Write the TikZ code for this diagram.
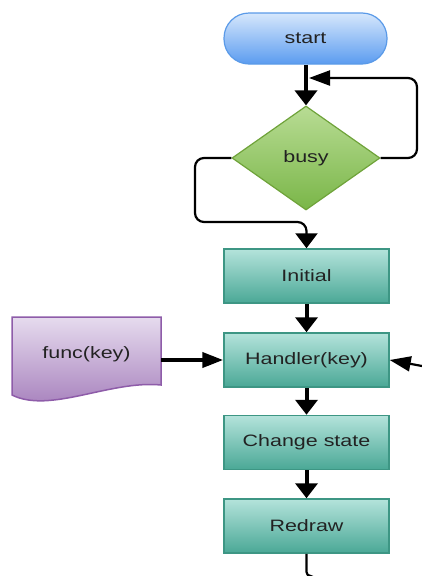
\documentclass[tikz,border=0pt]{standalone}
\usepackage{fontspec}
\setmainfont[FakeStretch=1.3]{Liberation Sans}
\usetikzlibrary{arrows.meta,shapes.geometric,calc}
\definecolor{stTop}{HTML}{D6E7FC}
\definecolor{stBot}{HTML}{5B9CF0}
\definecolor{stBrd}{HTML}{5A9AE8}
\definecolor{dmTop}{HTML}{B8DC94}
\definecolor{dmBot}{HTML}{7AB648}
\definecolor{dmBrd}{HTML}{6FA33A}
\definecolor{prTop}{HTML}{B4E3DB}
\definecolor{prBot}{HTML}{4AA896}
\definecolor{prBrd}{HTML}{3D9684}
\definecolor{dcTop}{HTML}{E6DBEE}
\definecolor{dcBot}{HTML}{A27AB9}
\definecolor{dcBrd}{HTML}{8E5CA9}
\definecolor{txt}{HTML}{222222}
\tikzset{
  x=1pt, y=1pt,
  lbl/.style={font=\fontsize{16.5}{18}\selectfont, text=txt},
  startbox/.style={lbl, rectangle, rounded corners=25pt, draw=stBrd, line width=1.2pt,
    top color=stTop, bottom color=stBot, minimum width=163pt, minimum height=51pt, inner sep=0pt},
  busybox/.style={lbl, diamond, draw=dmBrd, line width=1.2pt, top color=dmTop, bottom color=dmBot,
    minimum width=148pt, minimum height=104pt, inner sep=0pt},
  procbox/.style={lbl, rectangle, draw=prBrd, line width=1.5pt, top color=prTop, bottom color=prBot,
    minimum width=165pt, minimum height=54pt, inner sep=0pt},
  docshape/.style={draw=dcBrd, line width=1.5pt, top color=dcTop, bottom color=dcBot},
  vflow/.style={line width=4pt, -{Triangle[width=22pt,length=15pt]}},
  hflow/.style={line width=4pt, -{Triangle[width=15pt,length=21pt]}},
  loopv/.style={line width=2.2pt, rounded corners=9pt, -{Triangle[width=22pt,length=15pt]}},
  looph/.style={line width=2.2pt, rounded corners=9pt, -{Triangle[width=15pt,length=21pt]}},
  plainline/.style={line width=2.2pt, rounded corners=4pt},
}
\begin{document}
\begin{tikzpicture}
\useasboundingbox (0,0) rectangle (422,-576);
% document shape
\path[docshape] (12,-317) -- (161,-317) -- (161,-385)
  .. controls (110,-380) and (50,-414) .. (12,-395) -- cycle;
\node[lbl, minimum width=149pt, minimum height=78pt, inner sep=0pt] (func) at (86.5,-354) {func(key)};
% nodes
\node[startbox] (start) at (305.5,-38.5) {start};
\node[busybox] (busy) at (306,-158) {busy};
\node[procbox] (init) at (306.5,-276) {Initial};
\node[procbox] (hand) at (306.5,-360) {Handler(key)};
\node[procbox] (chg) at (306.5,-442.5) {Change state};
\node[procbox] (redraw) at (306.5,-526) {Redraw};
\coordinate (rtop) at (417,-78);
\coordinate (lbot) at (195,-222);
\coordinate (rin) at (422,-366);
\coordinate (bend) at (310,-576);
% connectors
\draw[vflow] (start.south -| busy.north) -- (busy.north);
\draw[looph, shorten >=3pt] (busy.east) -| (rtop) -- (busy.north |- rtop);
\draw[loopv] (busy.west) -| (lbot) -- (init.north |- lbot) -- (init.north);
\draw[vflow] (init.south) -- (hand.north);
\draw[hflow] (func.east |- hand.west) -- (hand.west);
\draw[hflow, line width=2.2pt] (rin) -- (hand.east);
\draw[vflow] (hand.south) -- (chg.north);
\draw[vflow] (chg.south) -- (redraw.north);
\draw[plainline] (redraw.south) -- (redraw.south |- bend) -- (bend);
\end{tikzpicture}
\end{document}
